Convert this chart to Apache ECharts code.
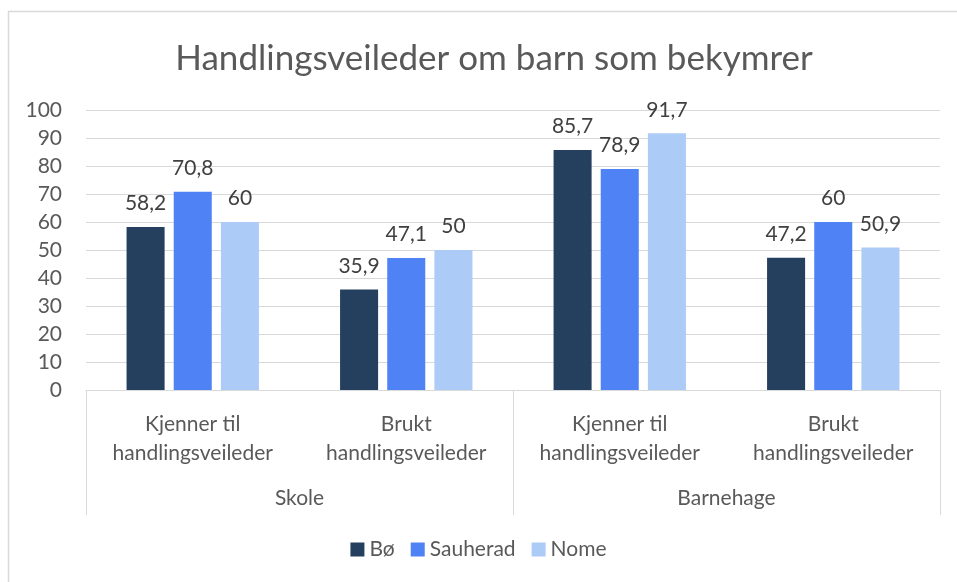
<!DOCTYPE html>
<html>
<head>
<meta charset="utf-8">
<script src="https://cdn.jsdelivr.net/npm/echarts@6/dist/echarts.min.js"></script>
<style>
  html, body { margin: 0; padding: 0; background: #fff; }
  #chart { width: 957px; height: 582px; }
</style>
</head>
<body>
<div id="chart"></div>
<script>
const categories = ['Kjenner til\nhandlingsveileder', 'Brukt\nhandlingsveileder', 'Kjenner til\nhandlingsveileder', 'Brukt\nhandlingsveileder'];
const groups = ['Skole', 'Barnehage'];
const seriesNames = ['Bø', 'Sauherad', 'Nome'];
const boValues = [58.2, 35.9, 85.7, 47.2];
const sauheradValues = [70.8, 47.1, 78.9, 60];
const nomeValues = [60, 50, 91.7, 50.9];
const colors = ['#253F5F', '#4F83F5', '#ADCBF7'];

const font = 'Lato, "Open Sans", sans-serif';
const textColor = '#595959';

let chartDom = document.getElementById('chart');
let myChart = echarts.init(chartDom);

function makeSeries(name, data, color) {
  return {
    name: name,
    type: 'bar',
    xAxisIndex: 0,
    data: data,
    barGap: '24%',
    barCategoryGap: '38%',
    itemStyle: { color: color },
    label: {
      show: true,
      position: 'top',
      distance: 13,
      color: '#404040',
      fontSize: 21,
      fontFamily: font,
      formatter: p => String(p.value).replace('.', ',')
    }
  };
}

let option = {
  animation: false,
  title: {
    text: 'Handlingsveileder om barn som bekymrer',
    left: 489,
    textAlign: 'center',
    top: 36,
    textStyle: { color: textColor, fontSize: 35, fontWeight: 'normal', fontFamily: font }
  },
  legend: {
    data: seriesNames,
    bottom: 17,
    left: 'center',
    icon: 'rect',
    itemWidth: 14,
    itemHeight: 14,
    itemGap: 16,
    textStyle: { color: textColor, fontSize: 21, fontFamily: font }
  },
  graphic: [{
    type: 'rect',
    shape: { x: 8.5, y: 11.5, width: 1000, height: 600 },
    style: { fill: 'none', stroke: '#D9D9D9', lineWidth: 1.5 },
    silent: true
  }],
  grid: { left: 86, right: 17, top: 110, bottom: 192 },
  xAxis: [
    {
      type: 'category',
      data: categories,
      position: 'bottom',
      axisLine: { lineStyle: { color: '#D9D9D9' } },
      axisTick: { show: false },
      axisLabel: { color: textColor, fontSize: 21, lineHeight: 29, margin: 20, fontFamily: font, interval: 0 }
    },
    {
      type: 'category',
      data: groups,
      position: 'bottom',
      axisLine: { show: false },
      axisTick: { show: true, length: 125, lineStyle: { color: '#D9D9D9' } },
      axisLabel: { color: textColor, fontSize: 21, margin: 98, fontFamily: font }
    }
  ],
  yAxis: {
    type: 'value',
    min: 0,
    max: 100,
    interval: 10,
    axisLine: { show: false },
    axisTick: { show: false },
    splitLine: { lineStyle: { color: '#D9D9D9' } },
    axisLabel: { color: textColor, fontSize: 21, margin: 24, fontFamily: font }
  },
  series: [
    makeSeries(seriesNames[0], boValues, colors[0]),
    makeSeries(seriesNames[1], sauheradValues, colors[1]),
    makeSeries(seriesNames[2], nomeValues, colors[2])
  ]
};

option && myChart.setOption(option);
</script>
</body>
</html>
